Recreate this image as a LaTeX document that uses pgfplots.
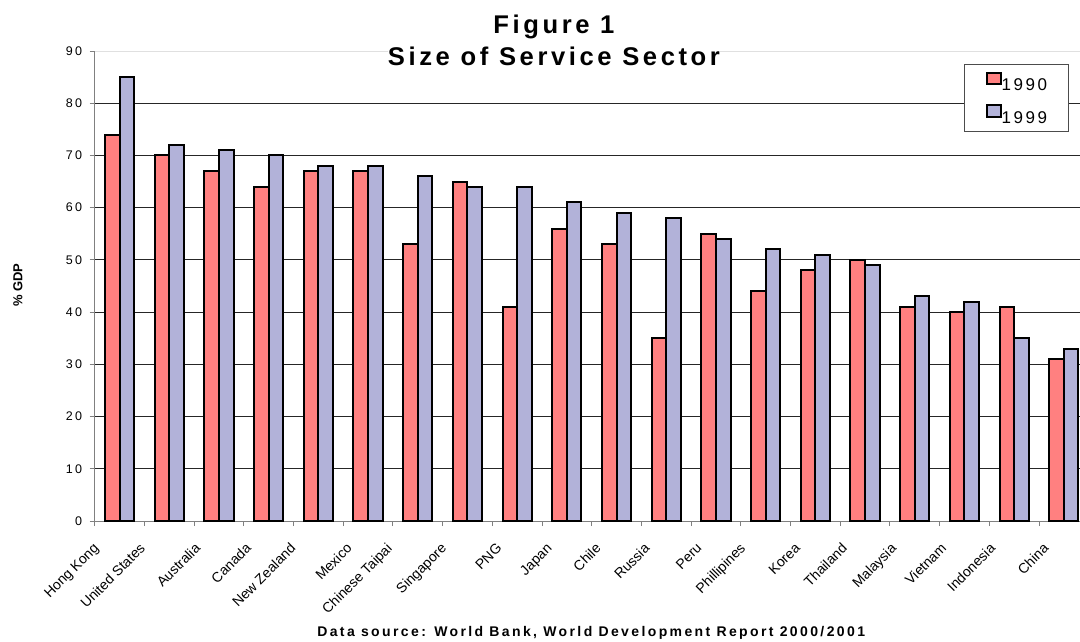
\documentclass[border=0pt]{standalone}
\usepackage{pgfplots}
\usepackage{pgfplotstable}
\pgfplotsset{compat=1.18}
\usepackage{fontspec}
\setmainfont{Liberation Sans}
\newfontfamily\tickfont[LetterSpace=20]{Liberation Sans}
\newfontfamily\titlefont[LetterSpace=14]{Liberation Sans}
\newfontfamily\sourcefont[LetterSpace=17]{Liberation Sans}
\newfontfamily\legendfont[LetterSpace=15]{Liberation Sans}

\definecolor{bar90}{RGB}{255,128,128}
\definecolor{bar99}{RGB}{178,178,217}

% Services as share of GDP (%), 1990 and 1999
\pgfplotstableread{
idx y1990 y1999
0  74 85
1  70 72
2  67 71
3  64 70
4  67 68
5  67 68
6  53 66
7  65 64
8  41 64
9  56 61
10 53 59
11 35 58
12 55 54
13 44 52
14 48 51
15 50 49
16 41 43
17 40 42
18 41 35
19 31 33
}\servicedata

% horizontal offset of each rotated country label
\def\labelshifts{{-27,-30.5,-25,-24,-29,-22.5,-32,-27.5,-21.5,-21,-22,-23,-20.3,-26.7,-21.4,-24.4,-24.8,-24.5,-25.2,-21.6}}

\begin{document}
\begin{tikzpicture}[x=1pt,y=1pt]
\begin{axis}[
  at={(94.7pt,120pt)}, anchor=south west,
  scale only axis, width=994pt, height=470pt,
  xmin=-0.5, xmax=19.5, ymin=0, ymax=90,
  ybar=0pt, bar width=14.6pt,
  every axis plot post/.append style={
    legend image code/.code={\draw[##1] (0pt,1pt) rectangle (14pt,12.5pt);}},
  axis x line*=bottom, axis y line*=left,
  axis line style={-, draw=black!50, line width=1pt},
  tick align=outside, major tick length=5pt,
  tick style={draw=black!50, line width=1pt},
  xtick={-0.5,0.5,...,19.5},
  x tick label as interval,
  xticklabels={Hong Kong, United States, Australia, Canada, New Zealand, Mexico,
    Chinese Taipai, Singapore, PNG, Japan, Chile, Russia, Peru, Phillipines,
    Korea, Thailand, Malaysia, Vietnam, Indonesia, China},
  xticklabel style={font=\fontsize{14}{16}\selectfont,
    xshift={\labelshifts[\ticknum]}, yshift=-16pt,
    rotate=45, anchor=north east, inner sep=0pt},
  ytick={0,10,...,80},
  extra y ticks={90},
  extra y tick style={major grid style={black!12, line width=1pt}},
  ymajorgrids, major grid style={black!85, line width=1pt},
  /pgf/number format/assume math mode=true,
  yticklabel style={font=\tickfont\fontsize{12.5}{14}\selectfont, xshift=-4pt},
  title={Figure 1\\Size of Service Sector},
  title style={font=\titlefont\bfseries\fontsize{25.6}{32.7}\selectfont, align=center,
    anchor=south, inner sep=0pt, text depth=0pt, fill=white,
    at={(axis description cs:0.462,0.9553)}},
  ylabel={\% GDP},
  ylabel style={font=\bfseries\fontsize{13}{15}\selectfont, rotate=0,
    at={(axis description cs:-0.0772,0.502)}, anchor=center},
  xlabel={Data source: World Bank, World Development Report 2000/2001},
  xlabel style={font=\sourcefont\bfseries\fontsize{14}{16}\selectfont,
    at={(axis description cs:0.4995,-0.2462)}, anchor=base},
  legend style={at={(axis description cs:0.8746,0.9717)}, anchor=north west,
    draw=black!70, line width=1pt, fill=white, inner xsep=21pt, inner ysep=7pt,
    row sep=12.5pt, font=\legendfont\fontsize{17}{18}\selectfont,
    nodes={inner sep=0pt},
    /tikz/every even column/.append style={column sep=6pt}},
]
\addplot[fill=bar90, draw=black, line width=2pt] table[x=idx, y=y1990] {\servicedata};
\addplot[fill=bar99, draw=black, line width=2pt] table[x=idx, y=y1999] {\servicedata};
\legend{1990,1999}
\end{axis}
\pgfresetboundingbox
\useasboundingbox (0pt,0pt) rectangle (1080pt,641pt);
\end{tikzpicture}
\end{document}
